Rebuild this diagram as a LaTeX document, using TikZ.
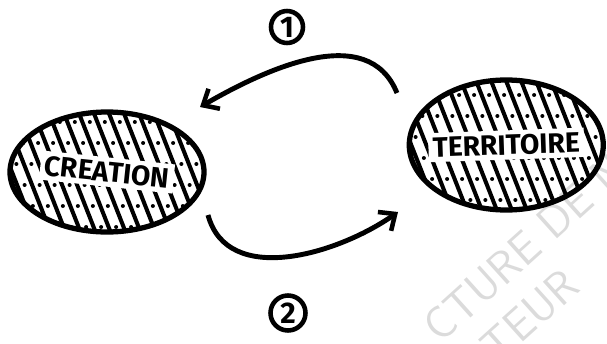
\documentclass[tikz,border=0pt]{standalone}
\usepackage{fontspec}
\newfontfamily\handfont{Fira Sans}
\usepackage{tikz}
\usetikzlibrary{shapes.geometric, arrows.meta, positioning, calc}
\tikzstyle{blob} = [ellipse,
minimum width=3.88cm,
draw=black, line width=3pt,
path picture={
  \foreach \k in {-2.8,-2.5,...,2.8} {
    \draw[line width=2.3pt] ($(path picture bounding box.center)+(\k-0.55,1.4)$) -- ++(1.1,-2.8);
    \foreach \t in {-1.1,-0.68,...,1.2} {
      \fill ($(path picture bounding box.center)+(\k+0.15-0.393*\t,\t)$) circle (0.04);
    }
  }
}]
\tikzstyle{lbl} = [fill=white, inner sep=2.5pt, font=\handfont\bfseries\fontsize{16}{16}\selectfont]
\tikzstyle{num} = [circle, draw=black, line width=2.6pt, inner sep=0pt, minimum size=0.64cm,
font=\handfont\bfseries\fontsize{17}{17}\selectfont]
\tikzstyle{arrow} = [line width=2.8pt, -{Straight Barb[length=2.6mm, width=4.6mm, line width=2.6pt]}]
\tikzstyle{watermark} = [text=black!14, font=\sffamily\fontsize{26}{26}\selectfont]

\begin{document}
\begin{tikzpicture}
  \useasboundingbox (0,0) rectangle (12.14,6.86);
  % watermark
  \node[watermark, rotate=42] at (10.5,1.9) {CTURE DE N};
  \node[watermark, rotate=42] at (10.6,0.55) {TEUR};

  \node (crea) [blob, minimum height=2.4cm] at (2.14,3.42) {};
  \node (terr) [blob, minimum height=2.6cm, right=4cm of crea, yshift=0.54cm] {};
  \node [lbl, rotate=-6] at (crea) {CREATION};
  \node [lbl, rotate=2] at (terr) {TERRITOIRE};

  \coordinate (a1s) at (7.94,5.0);
  \coordinate (a1e) at (4.0,4.72);
  \coordinate (a2s) at (4.16,2.56);
  \coordinate (a2e) at (7.96,2.62);
  \draw [arrow] (a1s) to[out=112, in=30] (a1e);
  \draw [arrow] (a2s) to[out=-75, in=215] (a2e);

  \node (one) [num] at (5.74,6.32) {1};
  \node (two) [num, minimum size=0.7cm] at (5.76,0.6) {2};
\end{tikzpicture}
\end{document}
